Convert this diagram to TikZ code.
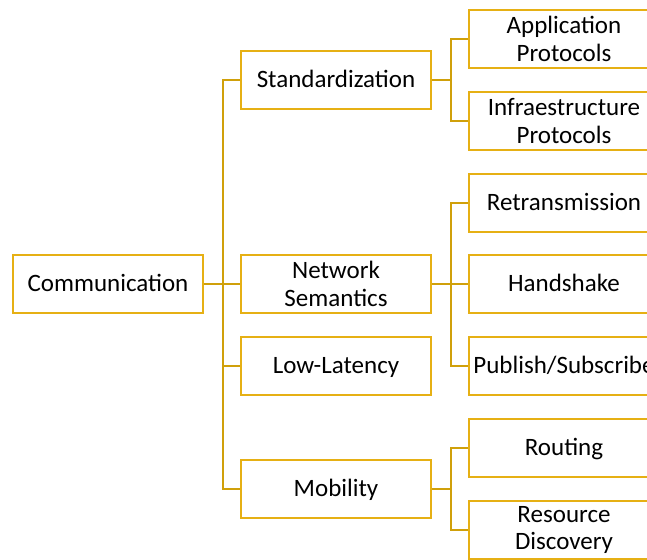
\documentclass[tikz,border=0pt]{standalone}
\usepackage{fontspec}
\setmainfont{Carlito}
\definecolor{boxgold}{RGB}{230,176,20}
\definecolor{linegold}{RGB}{208,160,10}
\tikzset{
  box/.style={draw=boxgold, line width=2pt, fill=white, minimum width=190, minimum height=58,
    inner sep=0pt, align=center, font=\fontsize{25}{27.5}\selectfont},
  oneline/.style={box, text height=19pt, text depth=4pt},
  link/.style={draw=linegold, line width=2pt}
}
\begin{document}
\begin{tikzpicture}[x=1pt,y=-1pt]
    			\useasboundingbox (0,0) rectangle (647,559);
    			\clip (0,0) rectangle (647,559);
    
    			%Boxes
    			\node[oneline] (comm) at (108,284) {Communication};
    			\node[oneline] (std) at (336,80) {Standardization};
    			\node[box] (sem) at (336,284) {Network\\Semantics};
    			\node[oneline] (lat) at (336,366) {Low-Latency};
    			\node[oneline] (mob) at (336,489) {Mobility};
    
    			\node[box] (app) at (564,39) {Application\\Protocols};
    			\node[box] (infra) at (564,121) {Infraestructure\\Protocols};
    			\node[oneline] (retx) at (564,203) {Retransmission};
    			\node[oneline] (hand) at (564,284) {Handshake};
    			\node[oneline] (pub) at (564,366) {Publish/Subscribe};
    			\node[oneline] (rout) at (564,448) {Routing};
    			\node[box] (disc) at (564,530) {Resource\\Discovery};
    
    			%Connectors
    			\foreach \n in {std, sem, lat, mob}
      			\draw[link] (comm.east) -- ([xshift=19]comm.east) |- (\n.west);
    			\foreach \n in {app, infra}
      			\draw[link] (std.east) -- ([xshift=19]std.east) |- (\n.west);
    			\foreach \n in {retx, hand, pub}
      			\draw[link] (sem.east) -- ([xshift=19]sem.east) |- (\n.west);
    			\foreach \n in {rout, disc}
      			\draw[link] (mob.east) -- ([xshift=19]mob.east) |- (\n.west);
\end{tikzpicture}
\end{document}
